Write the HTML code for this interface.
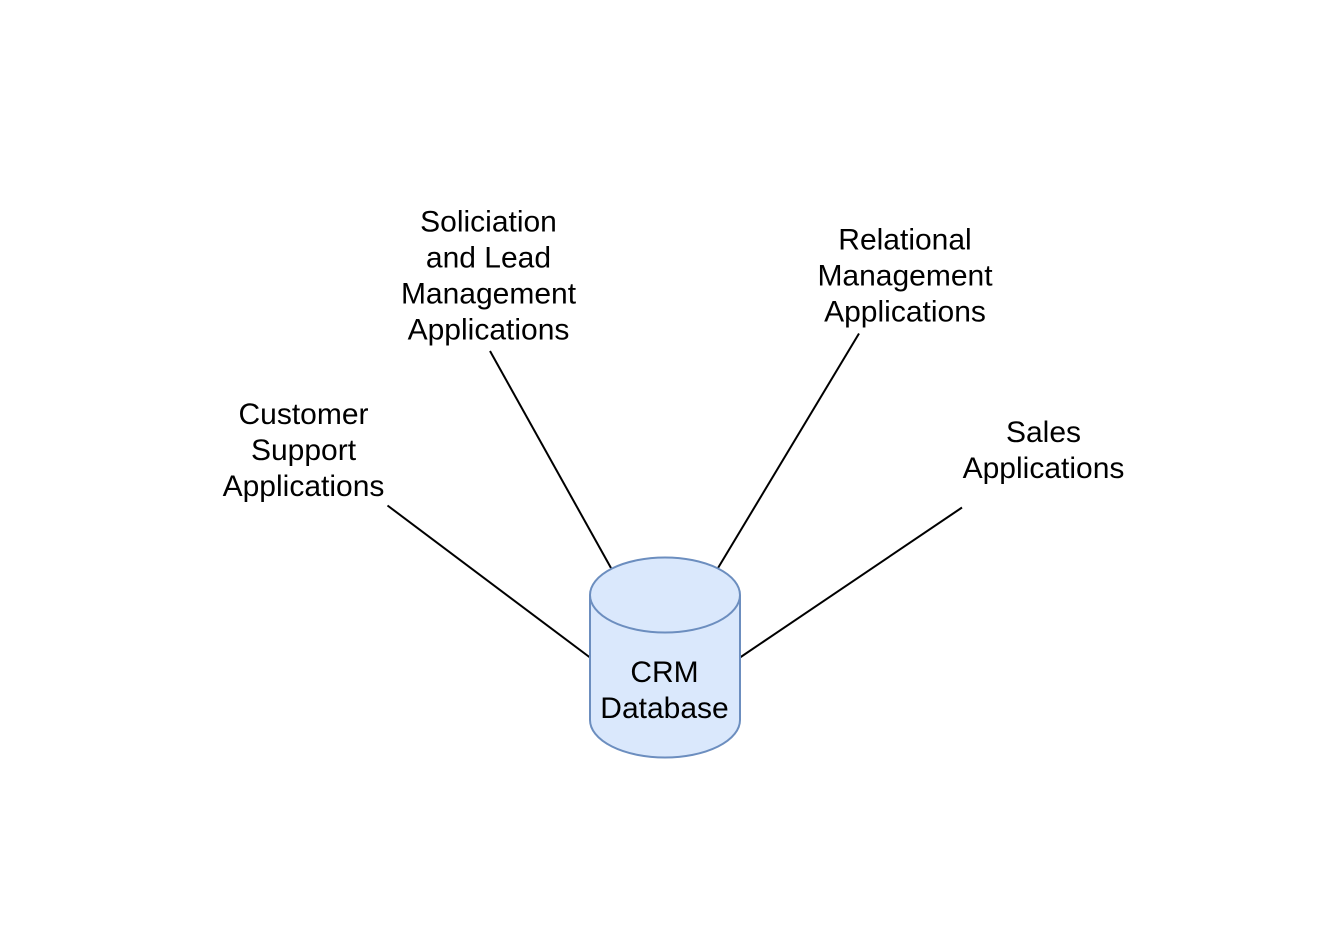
<!DOCTYPE html>
<html>
<head>
<meta charset="utf-8">
<style>
  html, body { margin:0; padding:0; background:#ffffff; }
  body { width:1338px; height:942px; overflow:hidden; }
  svg { display:block; }
  text { font-family: "Liberation Sans", Arial, Helvetica, sans-serif; font-size:30px; fill:#000; }
</style>
</head>
<body>
<svg width="1338" height="942" viewBox="0 0 1338 942" xmlns="http://www.w3.org/2000/svg">
  <rect x="0" y="0" width="1338" height="942" fill="#ffffff"/>
  <!-- connectors -->
  <g stroke="#000" stroke-width="2" fill="none" stroke-linecap="butt">
    <line x1="387.5" y1="505.5" x2="590" y2="657.5"/>
    <line x1="490" y1="351" x2="611" y2="568"/>
    <line x1="859" y1="333.5" x2="718" y2="568"/>
    <line x1="962" y1="507.5" x2="740" y2="657.5"/>
  </g>
  <!-- cylinder -->
  <path d="M590,595 A75,37.5 0 0 1 740,595 V720 A75,37.5 0 0 1 590,720 Z" fill="#dae8fc" stroke="#6c8ebf" stroke-width="2"/>
  <path d="M590,595 A75,37.5 0 0 0 740,595" fill="none" stroke="#6c8ebf" stroke-width="2"/>
  <!-- labels -->
  <g text-anchor="middle">
    <text x="664.5" y="682">CRM</text>
    <text x="664.5" y="718">Database</text>

    <text x="303.5" y="424">Customer</text>
    <text x="303.5" y="460">Support</text>
    <text x="303.5" y="496">Applications</text>

    <text x="488.5" y="231.5">Soliciation</text>
    <text x="488.5" y="267.5">and Lead</text>
    <text x="488.5" y="303.5">Management</text>
    <text x="488.5" y="339.5">Applications</text>

    <text x="905" y="249.5">Relational</text>
    <text x="905" y="285.5">Management</text>
    <text x="905" y="321.5">Applications</text>

    <text x="1043.5" y="442">Sales</text>
    <text x="1043.5" y="478">Applications</text>
  </g>
</svg>
</body>
</html>
